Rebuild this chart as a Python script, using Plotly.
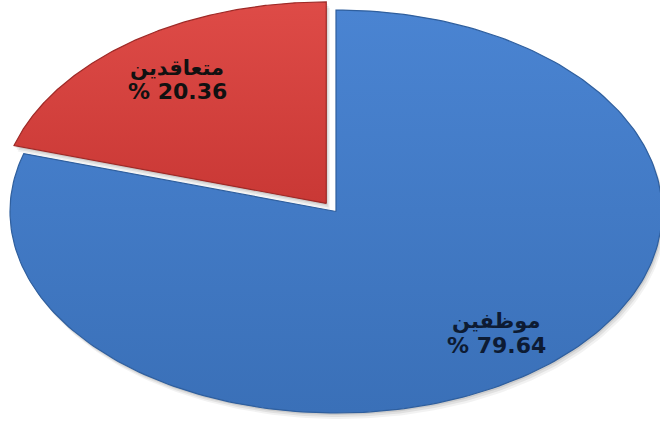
import numpy as np
import plotly.graph_objects as go

# Share of staff by contract type
labels = ["موظفين", "متعاقدين"]
values = [79.64, 20.36]
colors_top = ["#4a84d2", "#de4b47"]
colors_bottom = ["#3a70b8", "#c93835"]
edge_colors = ["#2f5f9e", "#9e2a27"]
text_colors = ["#0d1b33", "#111111"]
pulls = [0.0, 0.05]

W, H = 660, 423
cx, cy = 336.0, 211.5      # pie centre (pixels, y down)
rx, ry = 326.0, 201.5      # tilted pie: ellipse radii

total = sum(values)
fig = go.Figure()

start = 0.0  # clockwise degrees from 12 o'clock
slices = []
for lab, v, ct, cb, ec, tc, pull in zip(labels, values, colors_top, colors_bottom,
                                         edge_colors, text_colors, pulls):
    sweep = 360.0 * v / total
    a0, a1 = start, start + sweep
    mid = np.radians(90 - (a0 + a1) / 2)
    ox = pull * rx * np.cos(mid)
    oy = -pull * ry * np.sin(mid)
    th = np.radians(90 - np.linspace(a0, a1, 240))
    xs = np.concatenate([[cx], cx + rx * np.cos(th), [cx]]) + ox
    ys = np.concatenate([[cy], cy - ry * np.sin(th), [cy]]) + oy
    slices.append(dict(lab=lab, v=v, ct=ct, cb=cb, ec=ec, tc=tc, xs=xs, ys=ys))
    start = a1

# soft drop shadow under the slices
for k, alpha in [(6, 0.05), (4, 0.07), (2, 0.09)]:
    for s in slices:
        fig.add_trace(go.Scatter(
            x=s["xs"] + k * 0.6, y=s["ys"] + k, mode="lines", fill="toself",
            fillcolor=f"rgba(0,0,0,{alpha})", line=dict(width=0),
            hoverinfo="skip", showlegend=False))

for s in slices:
    fig.add_trace(go.Scatter(
        x=s["xs"], y=s["ys"], mode="lines", fill="toself",
        fillgradient=dict(type="vertical", colorscale=[[0, s["cb"]], [1, s["ct"]]]),
        line=dict(color=s["ec"], width=1.2),
        hoverinfo="skip", showlegend=False))

# slice labels: name on the first line, percentage below
label_pos = {
    "موظفين": (496, 321, 345),
    "متعاقدين": (177, 68, 91),
}
for s in slices:
    tx, ty1, ty2 = label_pos[s["lab"]]
    fig.add_annotation(
        x=tx, y=ty1, xref="x", yref="y", showarrow=False,
        text=f"<b>{s['lab']}</b>",
        font=dict(family="DejaVu Sans", size=21, color=s["tc"]))
    fig.add_annotation(
        x=tx, y=ty2, xref="x", yref="y", showarrow=False,
        text=f"<b>% {s['v']:.2f}</b>",
        font=dict(family="DejaVu Sans", size=22, color=s["tc"]))

fig.update_xaxes(range=[0, W], visible=False, fixedrange=True)
fig.update_yaxes(range=[H, 0], visible=False, fixedrange=True)
fig.update_layout(
    width=W, height=H,
    margin=dict(l=0, r=0, t=0, b=0),
    paper_bgcolor="white", plot_bgcolor="white",
    showlegend=False)

fig.write_html("out.html")
